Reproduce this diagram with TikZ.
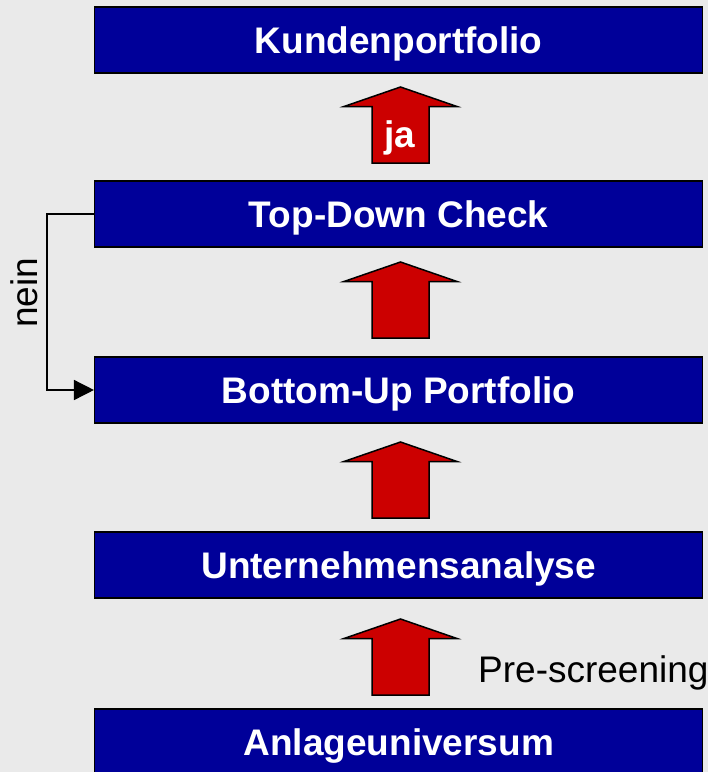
\documentclass[tikz,border=0pt]{standalone}
\usepackage{fontspec}
\setmainfont{Liberation Sans}
\usetikzlibrary{arrows.meta}
\definecolor{bg}{HTML}{EAEAEA}
\definecolor{boxblue}{HTML}{000099}
\definecolor{arrred}{HTML}{CC0000}
\begin{document}
\begin{tikzpicture}[x=1pt,y=-1pt,
  stagebox/.style={draw=black,line width=1.5pt,fill=boxblue,text=white,
    minimum width=608pt,minimum height=66pt,inner sep=0pt,
    font=\bfseries\fontsize{37}{44}\selectfont,text height=26.5pt,text depth=0pt},
  uparrow/.style={draw=black,line width=1.5pt,fill=arrred,line join=miter},
  plain/.style={font=\fontsize{37}{44}\selectfont,inner sep=0pt}]
\fill[bg] (0,0) rectangle (708,772);
\useasboundingbox (0,0) rectangle (708,772);
\node[stagebox] (kp) at (398.7,40) {Kundenportfolio};
\node[stagebox] (td) at (398.7,214) {Top-Down Check};
\node[stagebox] (bu) at (398.7,390) {Bottom-Up Portfolio};
\node[stagebox] (ua) at (398.7,565) {Unternehmensanalyse};
\node[stagebox] (au) at (398.7,742) {Anlageuniversum};
\foreach \t in {87,262,442,619}{
  \draw[uparrow] (400.5,\t) -- (457,\t+19.5) -- (429,\t+19.5) -- (429,\t+76)
    -- (372,\t+76) -- (372,\t+19.5) -- (344,\t+19.5) -- cycle;
}
\node[plain,anchor=base,text=white,font=\bfseries\fontsize{37}{44}\selectfont] (ja) at (400,147) {ja};
\node[plain,anchor=base west] (ps) at (478,682) {Pre-screening};
\coordinate (nl) at (47,214);
\draw[line width=1.5pt,-{Triangle[length=20pt,width=20pt]}] (td.west) -- (nl) |- (bu.west);
\node[plain,rotate=90,anchor=base] (nein) at (37,293) {nein};
\end{tikzpicture}
\end{document}
